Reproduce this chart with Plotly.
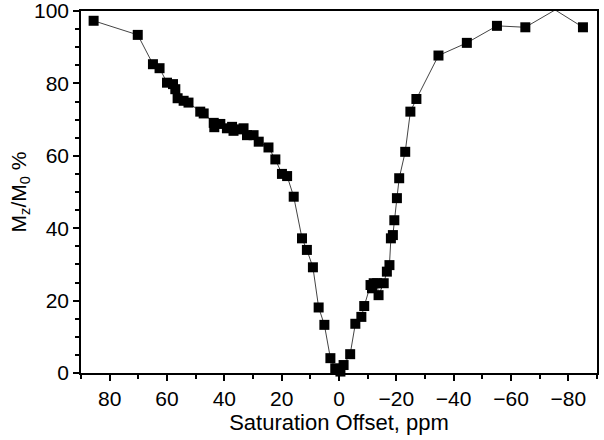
import plotly.graph_objects as go

offset_ppm = [85.6, 70.2, 64.9, 62.6, 60.0, 57.9, 57.1, 56.3, 54.2, 52.5,
              48.4, 47.2, 43.7, 43.5, 41.4, 39.1, 37.3, 36.8, 35.0, 33.3,
              32.1, 29.8, 28.0, 24.6, 22.2, 19.9, 18.1, 15.8, 12.9, 11.2,
              9.1, 7.1, 5.1, 3.0, 1.3, -0.5, -1.6, -3.9, -5.7, -7.8,
              -8.8, -11.0, -11.5, -12.1, -13.3, -13.8, -15.6, -16.7, -17.6, -18.1,
              -18.8, -19.3, -20.2, -21.0, -23.1, -24.9, -27.0, -34.7, -44.6, -55.1,
              -65.0, -75.4, -85.1]
mz_m0 = [97.3, 93.4, 85.3, 84.2, 80.2, 79.8, 78.4, 75.9, 75.2, 74.7,
         72.2, 71.7, 69.1, 67.9, 68.8, 67.6, 68.0, 66.9, 67.3, 67.6,
         65.7, 65.7, 63.9, 62.3, 59.0, 55.0, 54.4, 48.7, 37.2, 34.0,
         29.2, 18.1, 13.3, 4.1, 1.3, 0.4, 2.2, 5.2, 13.6, 15.5,
         18.5, 24.3, 23.4, 24.8, 24.8, 21.5, 24.8, 28.0, 29.8, 37.2,
         38.1, 42.2, 48.3, 53.8, 61.1, 72.2, 75.7, 87.7, 91.2, 95.9,
         95.5, 100.3, 95.5]

x_tickvals = [80, 60, 40, 20, 0, -20, -40, -60, -80]
y_tickvals = [0, 20, 40, 60, 80, 100]

fig = go.Figure()
fig.add_trace(go.Scatter(
    x=offset_ppm, y=mz_m0, mode="lines+markers",
    line=dict(color="#444444", width=1),
    marker=dict(symbol="square", size=10, color="black"),
    cliponaxis=False, showlegend=False,
))

font_family = "Liberation Sans, Arial, sans-serif"
fig.update_layout(
    width=604, height=440,
    margin=dict(l=81, r=7, t=11, b=67),
    paper_bgcolor="white", plot_bgcolor="white",
    font=dict(family=font_family, color="black"),
    xaxis=dict(
        range=[90, -90], tickvals=x_tickvals, automargin=False,
        ticklabeloverflow="allow",
        ticks="outside", ticklen=6, tickwidth=1.5, tickcolor="black",
        minor=dict(dtick=10, tick0=0, ticks="outside", ticklen=4, tickcolor="black", tickwidth=1.5),
        showline=True, linecolor="black", linewidth=1.5, mirror=True,
        showgrid=False, zeroline=False,
        tickfont=dict(size=21, family=font_family, color="black"),
        title=dict(text="Saturation Offset, ppm", font=dict(size=22, family=font_family, color="black"), standoff=2),
    ),
    yaxis=dict(
        range=[0, 100], tickvals=y_tickvals, automargin=False,
        ticklabeloverflow="allow",
        ticks="outside", ticklen=6, tickwidth=1.5, tickcolor="black",
        minor=dict(dtick=5, tick0=0, ticks="outside", ticklen=4, tickcolor="black", tickwidth=1.5),
        showline=True, linecolor="black", linewidth=1.5, mirror=True,
        showgrid=False, zeroline=False,
        tickfont=dict(size=21, family=font_family, color="black"),
        title=dict(text="M<sub>z</sub>/M<sub>0</sub> %", font=dict(size=21, family=font_family, color="black"), standoff=2),
    ),
)

fig.write_html(
    "out.html",
    config={"displayModeBar": False},
    post_script="document.body.style.margin='0';document.body.style.overflow='hidden';",
)
